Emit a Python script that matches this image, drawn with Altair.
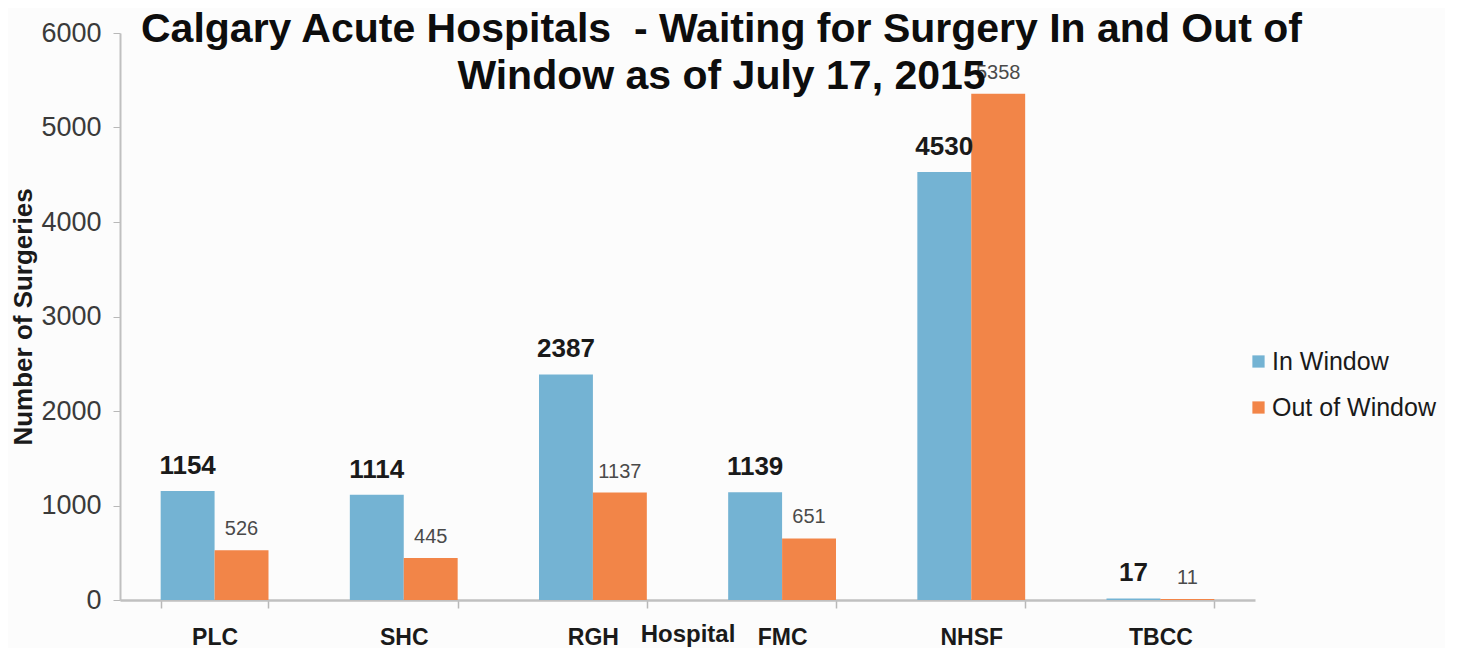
import altair as alt
import pandas as pd

hospitals = ["PLC", "SHC", "RGH", "FMC", "NHSF", "TBCC"]
in_window = [1154, 1114, 2387, 1139, 4530, 17]
out_window = [526, 445, 1137, 651, 5358, 11]
series = ["In Window", "Out of Window"]
colors = ["#74b3d3", "#f28548"]
title_lines = ["Calgary Acute Hospitals\u00a0 - Waiting for Surgery In and Out of",
               "Window as of July 17, 2015"]

rows = []
for h, a, b in zip(hospitals, in_window, out_window):
    rows.append({"Hospital": h, "Series": series[0], "Value": a})
    rows.append({"Hospital": h, "Series": series[1], "Value": b})
df = pd.DataFrame(rows)

FONT = "Liberation Sans"

x = alt.X("Hospital:N", sort=hospitals,
          scale=alt.Scale(paddingInner=0.43, paddingOuter=0.215),
          axis=alt.Axis(title="Hospital", labelAngle=0, labelFont=FONT, labelFontSize=23,
                        labelFontWeight="bold", labelColor="#1a1a1a", labelPadding=18,
                        tickBand="extent", tickSize=8, tickColor="#b8b8b8", tickWidth=1.5,
                        domainColor="#c0c0c0", domainWidth=2.5,
                        titleFont=FONT, titleFontSize=24, titleFontWeight="bold",
                        titleColor="#1a1a1a", titleY=22, titleBaseline="top"))
xo = alt.XOffset("Series:N", sort=series, scale=alt.Scale(paddingInner=0, paddingOuter=0))
y = alt.Y("Value:Q", scale=alt.Scale(domain=[0, 6000]),
          axis=alt.Axis(title="Number of Surgeries", values=[0, 1000, 2000, 3000, 4000, 5000, 6000],
                        format="d", grid=False, labelFont=FONT, labelFontSize=27,
                        labelColor="#3a3a3a", labelPadding=12, tickSize=7, tickColor="#b8b8b8",
                        domainColor="#c0c0c0", domainWidth=2, titleFont=FONT, titleFontSize=26,
                        titleFontWeight="bold", titleColor="#1a1a1a", titleX=-110,
                        titleBaseline="top"))

color = alt.Color("Series:N", sort=series,
                  scale=alt.Scale(domain=series, range=colors),
                  legend=alt.Legend(title=None, orient="none", legendX=1126, legendY=316,
                                    symbolType="square", symbolSize=150, symbolStrokeWidth=0,
                                    labelFont=FONT, labelFontSize=25, labelColor="#1a1a1a",
                                    labelLimit=400, rowPadding=20, labelOffset=1))

base = alt.Chart(df)
bars = base.mark_bar().encode(x=x, xOffset=xo, y=y, color=color)

lab_in = base.transform_filter(alt.datum.Series == series[0]).mark_text(
    font=FONT, fontSize=26, fontWeight="bold", color="#1a1a1a", baseline="alphabetic", dy=-17
).encode(x=x, xOffset=xo, y=y, text="Value:Q")

lab_out = base.transform_filter(alt.datum.Series == series[1]).mark_text(
    font=FONT, fontSize=20, color="#4a4a4a", baseline="alphabetic", dy=-15
).encode(x=x, xOffset=xo, y=y, text="Value:Q")

chart = alt.layer(bars, lab_in, lab_out).properties(
    width=1135, height=567,
    autosize=alt.AutoSizeParams(type="none"),
    padding={"left": 112, "top": 25, "right": 190, "bottom": 48},
    background="#fcfcfc",
    title=alt.TitleParams(text=title_lines, font=FONT, fontSize=41, fontWeight="bold",
                          color="#0d0d0d", lineHeight=47, anchor="middle", dx=34,
                          baseline="top", dy=83),
).configure_view(stroke=None)

chart.save("out.html", embed_options={"renderer": "svg", "actions": False})
